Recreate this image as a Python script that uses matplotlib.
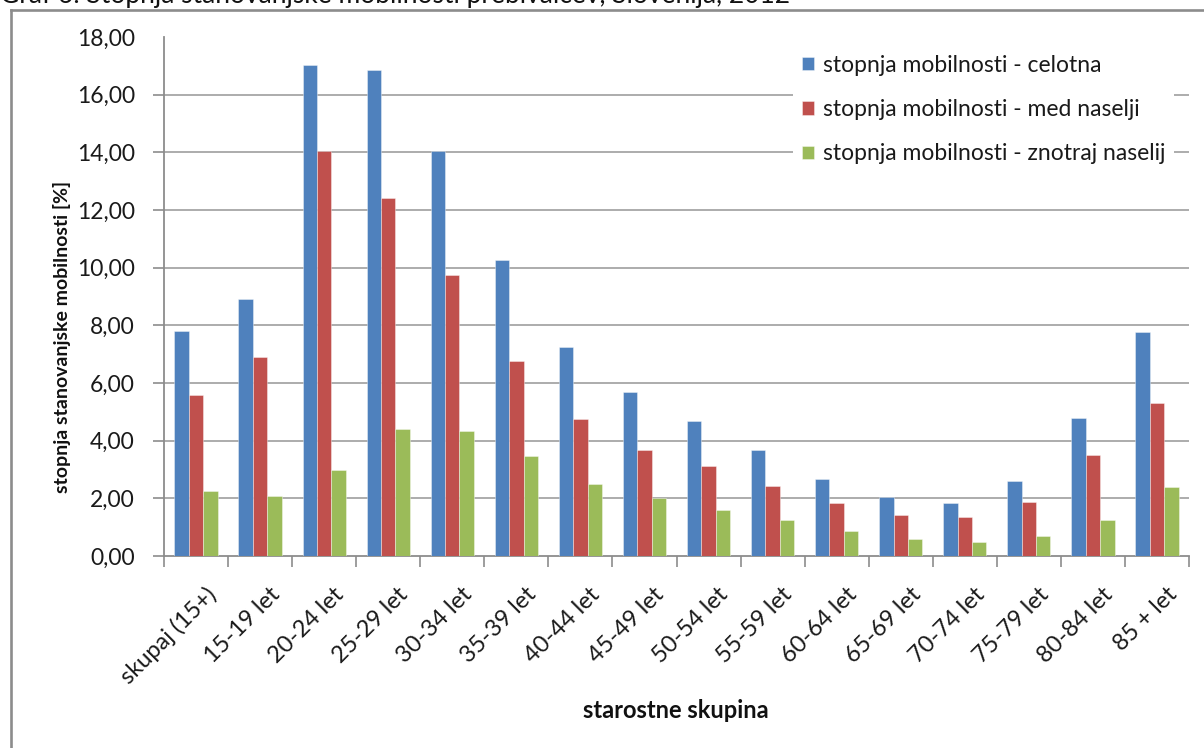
import matplotlib
matplotlib.use("Agg")
import matplotlib.pyplot as plt
from matplotlib.lines import Line2D
from matplotlib.transforms import ScaledTranslation
import numpy as np

plt.rcParams["font.family"] = ["Lato", "DejaVu Sans"]

# Age groups and mobility rates (%)
categories = ["skupaj (15+)", "15-19 let", "20-24 let", "25-29 let", "30-34 let",
              "35-39 let", "40-44 let", "45-49 let", "50-54 let", "55-59 let",
              "60-64 let", "65-69 let", "70-74 let", "75-79 let", "80-84 let",
              "85 + let"]
celotna = [7.80, 8.90, 17.03, 16.87, 14.04, 10.26, 7.26, 5.70, 4.67, 3.69,
           2.68, 2.05, 1.83, 2.59, 4.77, 7.78]
med_naselji = [5.57, 6.90, 14.04, 12.40, 9.73, 6.78, 4.74, 3.69, 3.12, 2.44,
               1.83, 1.43, 1.34, 1.87, 3.52, 5.30]
znotraj_naselij = [2.24, 2.07, 2.99, 4.42, 4.33, 3.48, 2.50, 2.00, 1.60, 1.25,
                   0.88, 0.59, 0.49, 0.71, 1.25, 2.41]
series_labels = ["stopnja mobilnosti - celotna",
                 "stopnja mobilnosti - med naselji",
                 "stopnja mobilnosti - znotraj naselij"]
y_ticks = [0, 2, 4, 6, 8, 10, 12, 14, 16, 18]

colors = ["#4F81BD", "#C0504D", "#9BBB59"]
W, H = 1204, 748
fig = plt.figure(figsize=(W / 100, H / 100), dpi=100)


def fx(x):
    return x / W


def fy(y):
    return 1 - y / H


# caption line (clipped at the top edge)
fig.text(fx(0), fy(3), "Graf 6: Stopnja stanovanjske mobilnosti prebivalcev, Slovenija, 2012",
         ha="left", va="baseline", fontsize=19, color="#111111")

# chart frame
border_kw = dict(color="#8c8c8c", lw=1.9, transform=fig.transFigure)
fig.add_artist(Line2D([fx(10.5), fx(10.5)], [fy(9.5), fy(760)], **border_kw))
fig.add_artist(Line2D([fx(10.5), fx(1220)], [fy(9.5), fy(9.5)], **border_kw))

ax = fig.add_axes([fx(164), fy(556), (1189 - 164) / W, (556 - 37) / H])

x = np.arange(len(categories))
bw = 0.225
for i, (vals, lab) in enumerate(zip([celotna, med_naselji, znotraj_naselij], series_labels)):
    ax.bar(x + (i - 1) * bw, vals, width=bw, color=colors[i], label=lab,
           edgecolor=(1, 1, 1, 0.45), linewidth=0.6, zorder=3)

for v in y_ticks[1:-1]:
    ax.axhline(v, color="#a6a6a6", lw=1.3, zorder=1)

ax.set_xlim(-0.5, len(categories) - 0.5)
ax.set_ylim(0, 18)
for s in ["top", "right"]:
    ax.spines[s].set_visible(False)
for s in ["left", "bottom"]:
    ax.spines[s].set_color("#8c8c8c")
    ax.spines[s].set_linewidth(1.3)

ax.set_yticks(y_ticks)
ax.set_yticklabels([f"{v:.2f}".replace(".", ",") for v in y_ticks])
ax.tick_params(axis="y", direction="out", length=8, width=1.2, color="#8c8c8c",
               pad=13, labelsize=16.5, labelcolor="#1a1a1a")
ax.yaxis.get_major_ticks()[-1].tick1line.set_visible(False)

ax.set_xticks(x)
ax.set_xticks(np.arange(-0.5, len(categories)), minor=True)
ax.tick_params(axis="x", which="major", length=0, pad=20, labelsize=17,
               labelcolor="#1a1a1a")
ax.tick_params(axis="x", which="minor", direction="out", length=8, width=1.2,
               color="#8c8c8c")
ax.set_xticklabels(categories, rotation=45, ha="right", va="top",
                   rotation_mode="anchor")
shift = ScaledTranslation(9 / 100, 0, fig.dpi_scale_trans)
for lbl in ax.get_xticklabels():
    lbl.set_transform(lbl.get_transform() + shift)

fig.text(fx(62), fy(337), "stopnja stanovanjske mobilnosti [%]", rotation=90,
         ha="center", va="center", fontsize=14, fontweight="bold", color="#111111")
fig.text(fx(676), fy(711), "starostne skupina", ha="center", va="center",
         fontsize=17, fontweight="bold", color="#111111")

leg = ax.legend(loc="upper left", bbox_to_anchor=(fx(793), fy(46)),
                bbox_transform=fig.transFigure, frameon=True, fancybox=False,
                facecolor="white", edgecolor="none", framealpha=1,
                fontsize=16.5, handlelength=0.52, handleheight=0.52,
                handletextpad=0.42, labelspacing=1.02, borderpad=0.38,
                borderaxespad=0)
for t in leg.get_texts():
    t.set_color("#1a1a1a")
leg.set_zorder(5)

fig.savefig("out.png", dpi=100)
